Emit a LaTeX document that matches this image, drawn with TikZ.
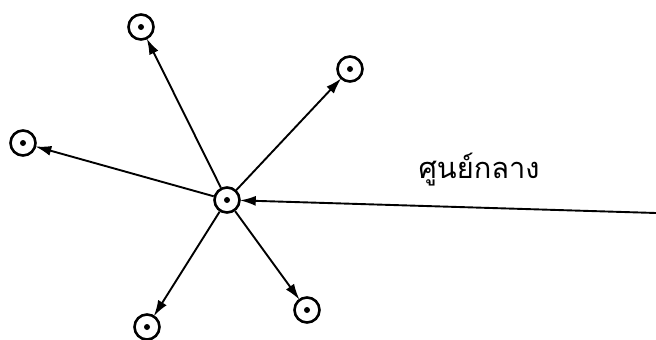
\documentclass[tikz,border=0pt]{standalone}
\usepackage{fontspec}
\newfontfamily\thaifont[Script=Thai]{Loma}
\usetikzlibrary{arrows.meta}

\begin{document}
\begin{tikzpicture}[x=1pt, y=-1pt,
site/.style={draw, circle, line width=2.6pt, minimum size=25pt, inner sep=0pt,
  path picture={\fill (path picture bounding box.center) circle (3pt);}},
arrow/.style={-{Latex[length=16pt, width=10pt]}, line width=1.9pt, shorten >=-1pt}
]
\useasboundingbox (0,0) rectangle (656,340);
\node[site] (hub) at (227,200) {};
\node[site] (top) at (141,27) {};
\node[site] (upright) at (350,69) {};
\node[site] (left) at (23,143) {};
\node[site] (lowleft) at (147,327) {};
\node[site] (lowright) at (307,310) {};
\coordinate (far) at (656,213);
\node[font=\thaifont\fontsize{29pt}{32pt}\selectfont] (label) at (479,170) {ศูนย์กลาง};
\draw[arrow] (hub) -- (top);
\draw[arrow] (hub) -- (upright);
\draw[arrow] (hub) -- (left);
\draw[arrow] (hub) -- (lowleft);
\draw[arrow] (hub) -- (lowright);
\draw[arrow] (far) -- (hub);
\end{tikzpicture}
\end{document}
